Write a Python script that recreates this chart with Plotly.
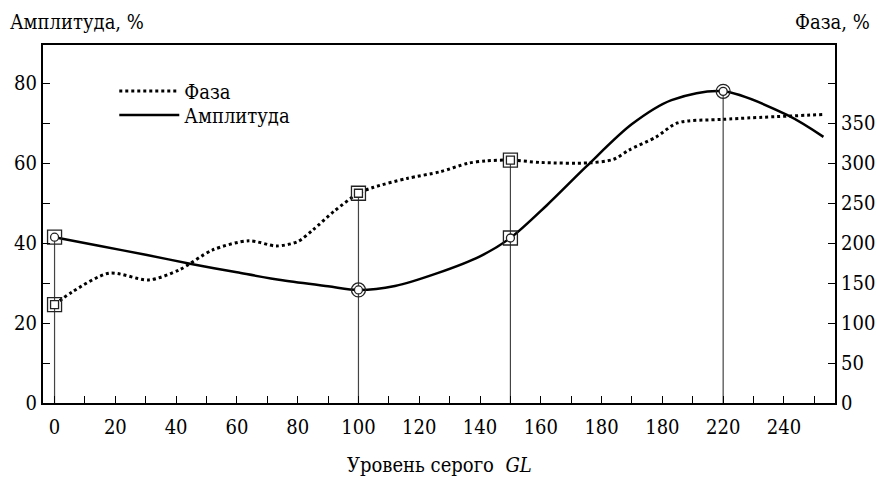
import plotly.graph_objects as go

# ---- data ----
gl_amp = [0, 15, 30, 45, 60, 75, 90, 100, 112, 126, 140, 150, 162, 175, 190, 203, 220, 241, 253]
amp = [41.5, 39.3, 37.1, 34.8, 32.7, 30.7, 29.2, 28.3, 29.3, 32.5, 36.7, 41.3, 49.5, 59.2, 69.8, 75.8, 78.0, 72.1, 66.6]

gl_phase = [0, 6, 18, 31, 41, 52, 64, 73, 80, 85, 92, 100, 105, 116, 127, 136, 142, 150, 160, 176, 184, 189, 198, 205, 220, 253]
phase = [123, 139.5, 162.5, 154, 166.5, 191.5, 203, 196.5, 202, 216.5, 240, 262.5, 270, 281, 289.5, 300, 303, 304, 301, 300.5, 305, 316.5, 333, 350.5, 355, 361]

amp_mark_x = [0, 100, 150, 220]
amp_mark_y = [41.5, 28.3, 41.3, 78.0]
amp_mark_outer = ["square-open", "circle-open", "square-open", "circle-open"]

phase_mark_x = [0, 100, 150]
phase_mark_y = [123, 262.5, 304]

x_ticks = list(range(0, 251, 10))
x_labels = {0: "0", 20: "20", 40: "40", 60: "60", 80: "80", 100: "100", 120: "120",
            140: "140", 160: "160", 180: "180", 200: "180", 220: "220", 240: "240"}
y1_ticks = list(range(0, 81, 10))
y1_labels = {0: "0", 20: "20", 40: "40", 60: "60", 80: "80"}
y2_ticks = list(range(0, 401, 50))
y2_labels = {v: str(v) for v in range(0, 351, 50)}

Y1_MAX = 89.6
Y2_MAX = 448.0
SCALE = Y2_MAX / Y1_MAX

INK = "black"

fig = go.Figure()

# drop lines (to the highest marker at each x)
drop = {}
for xv, yv in zip(amp_mark_x, amp_mark_y):
    drop[xv] = max(drop.get(xv, 0), yv)
for xv, yv in zip(phase_mark_x, phase_mark_y):
    drop[xv] = max(drop.get(xv, 0), yv / SCALE)
for xv, top in drop.items():
    fig.add_trace(go.Scatter(x=[xv, xv], y=[0, top], mode="lines",
                             line=dict(color="#444", width=1.2),
                             showlegend=False, hoverinfo="skip"))

fig.add_trace(go.Scatter(x=gl_phase, y=phase, yaxis="y2", mode="lines", name="Фаза",
                         line=dict(color=INK, width=3, dash="dot", shape="spline", smoothing=0.8),
                         legend="legend"))
fig.add_trace(go.Scatter(x=gl_amp, y=amp, mode="lines", name="Амплитуда",
                         line=dict(color=INK, width=2.5, shape="spline", smoothing=0.9),
                         legend="legend2"))

# markers
fig.add_trace(go.Scatter(x=phase_mark_x, y=phase_mark_y, yaxis="y2", mode="markers",
                         marker=dict(symbol="square-open", size=14, color="#222", line=dict(width=1.3)),
                         showlegend=False, hoverinfo="skip"))
fig.add_trace(go.Scatter(x=phase_mark_x, y=phase_mark_y, yaxis="y2", mode="markers",
                         marker=dict(symbol="square", size=8, color="white", line=dict(color="#222", width=1.3)),
                         showlegend=False, hoverinfo="skip"))
fig.add_trace(go.Scatter(x=amp_mark_x, y=amp_mark_y, mode="markers",
                         marker=dict(symbol=amp_mark_outer, size=14, color="#222", line=dict(width=1.3)),
                         showlegend=False, hoverinfo="skip"))
fig.add_trace(go.Scatter(x=amp_mark_x, y=amp_mark_y, mode="markers",
                         marker=dict(symbol="circle", size=8, color="white", line=dict(color="#222", width=1.3)),
                         showlegend=False, hoverinfo="skip"))

FONT = dict(family="DejaVu Serif Condensed", size=20, color=INK)

leg_common = dict(xanchor="left", yanchor="middle", bgcolor="rgba(0,0,0,0)", itemwidth=60, font=FONT)

fig.update_layout(
    width=881, height=477,
    margin=dict(l=43, r=46, t=45, b=74, autoexpand=False),
    paper_bgcolor="white", plot_bgcolor="white",
    font=FONT,
    xaxis=dict(range=[-3.8, 256.8], tickmode="array", tickvals=x_ticks,
               ticktext=[x_labels.get(v, "") for v in x_ticks],
               ticks="inside", ticklen=7, tickwidth=1, tickcolor=INK,
               showline=True, linecolor=INK, linewidth=2, mirror=True, automargin=False,
               showgrid=False, zeroline=False, tickfont=FONT, ticklabelstandoff=5),
    yaxis=dict(range=[0, Y1_MAX], tickmode="array", tickvals=y1_ticks,
               ticktext=[y1_labels.get(v, "") for v in y1_ticks],
               ticks="inside", ticklen=7, tickwidth=1, tickcolor=INK, automargin=False,
               showline=True, linecolor=INK, linewidth=2,
               showgrid=False, zeroline=False, tickfont=FONT),
    yaxis2=dict(range=[0, Y2_MAX], overlaying="y", side="right", tickmode="array",
                tickvals=y2_ticks, ticktext=[y2_labels.get(v, "") for v in y2_ticks],
                ticks="inside", ticklen=7, tickwidth=1, tickcolor=INK, automargin=False,
                showline=True, linecolor=INK, linewidth=2,
                showgrid=False, zeroline=False, tickfont=FONT),
    legend=dict(x=0.09, y=(403.3 - 91) / 358.3, **leg_common),
    legend2=dict(x=0.09, y=(403.3 - 115) / 358.3, **leg_common),
    showlegend=True,
    annotations=[
        dict(text="Амплитуда, %", xref="paper", yref="paper", x=-0.044, y=1.064,
             xanchor="left", yanchor="middle", showarrow=False, font=FONT),
        dict(text="Фаза, %", xref="paper", yref="paper", x=1.047, y=1.064,
             xanchor="right", yanchor="middle", showarrow=False, font=FONT),
        dict(text="Уровень серого  <i>GL</i>", xref="paper", yref="paper", x=0.5, y=-0.172,
             xanchor="center", yanchor="middle", showarrow=False, font=FONT),
    ],
)

fig.write_html("out.html")
